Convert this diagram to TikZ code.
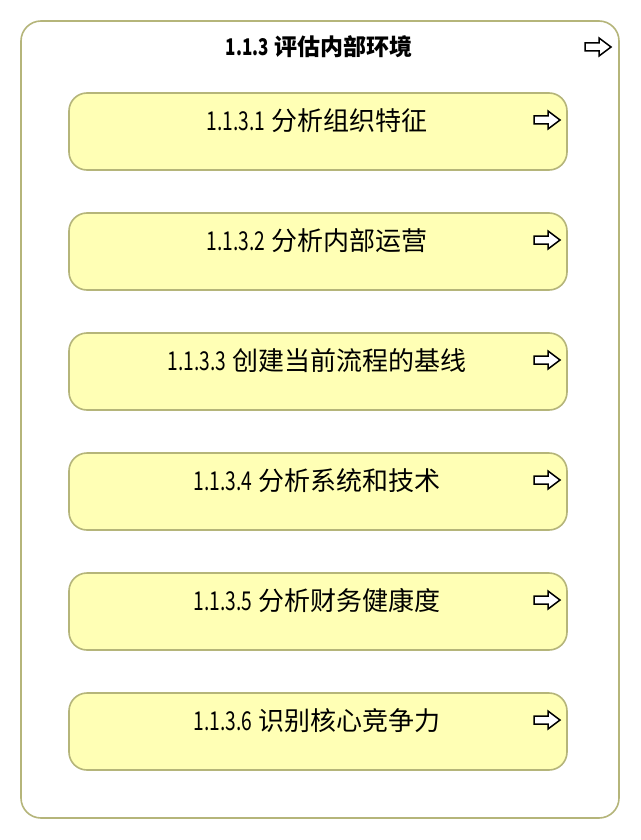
\documentclass[tikz,border=0pt]{standalone}
\usepackage{fontspec}
\usepackage{graphicx}
\setmainfont{Noto Sans CJK SC}
\newcommand\slimnum[1]{\scalebox{0.74}[1]{#1}}
\begin{document}
\begin{tikzpicture}[x=1pt,y=-1pt,
  outerbox/.style={draw=boxline,line width=1.6pt,fill=white,rounded corners=20pt},
  innerbox/.style={draw=boxline,line width=1.6pt,fill=boxfill,rounded corners=18pt},
  lbl/.style={font=\fontsize{26}{30}\selectfont,text=black,inner sep=0pt},
  ttl/.style={font=\fontsize{23}{27}\selectfont\bfseries,text=black,inner sep=0pt},
  arrowicon/.style={draw=black,line width=1.5pt,fill=white,line join=miter}]
\definecolor{boxline}{HTML}{B5B57A}
\definecolor{boxfill}{HTML}{FFFFB5}
\useasboundingbox (0,0) rectangle (640,840);
\fill[white] (0,0) rectangle (640,840);
\newcommand\arrowat[2]{%
  \draw[arrowicon] (#1-13,#2-4) -- (#1+1,#2-4) -- (#1+1,#2-9) -- (#1+13,#2) -- (#1+1,#2+9) -- (#1+1,#2+4) -- (#1-13,#2+4) -- cycle;}
\draw[outerbox] (21,21) rectangle (619,818);
\node[ttl] (title) at (319,47) {\slimnum{1.1.3} 评估内部环境};
\arrowat{598}{47}
\foreach \i/\n/\t in {0/1.1.3.1/分析组织特征,1/1.1.3.2/分析内部运营,2/1.1.3.3/创建当前流程的基线,3/1.1.3.4/分析系统和技术,4/1.1.3.5/分析财务健康度,5/1.1.3.6/识别核心竞争力}{
  \pgfmathsetmacro\top{93+120*\i}
  \draw[innerbox] (69,\top) rectangle (567,\top+77);
  \node[lbl] (n\i) at (317,\top+28) {\slimnum{\n} \t};
  \arrowat{547}{\top+27}
}
\end{tikzpicture}
\end{document}
